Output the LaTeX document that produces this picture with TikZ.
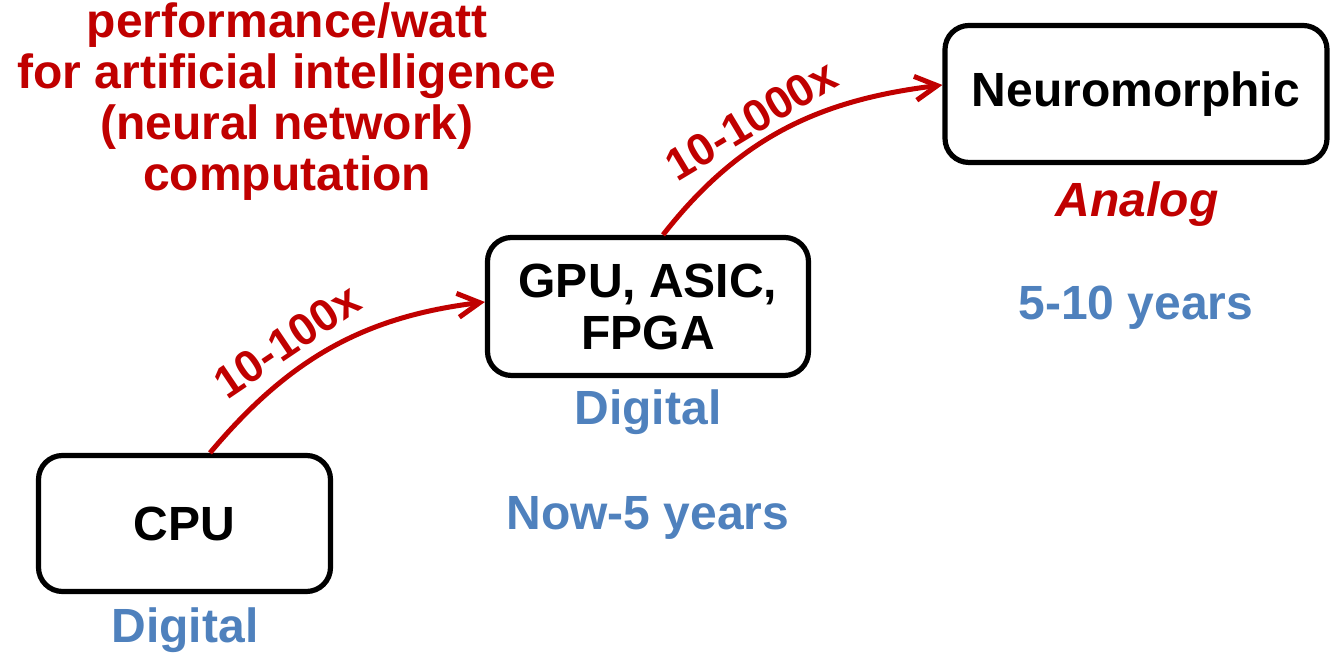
\documentclass[tikz,border=0pt]{standalone}
\usepackage{fontspec}
\setmainfont{Liberation Sans}
\usetikzlibrary{arrows.meta}
\definecolor{slidered}{RGB}{192, 0, 0}
\definecolor{slideblue}{RGB}{79, 129, 189}

\begin{document}
\begin{tikzpicture}[x=0.5pt, y=0.5pt,
    box/.style={draw, line width=2.6pt, rounded corners=12pt, align=center,
        font=\fontsize{24}{26}\selectfont\bfseries},
    tag/.style={anchor=base, text=slideblue, font=\fontsize{24}{28}\selectfont\bfseries},
    gain/.style={text=slidered, font=\fontsize{22.5}{26}\selectfont\bfseries},
    flow/.style={draw=slidered, line width=2.5pt, -{Straight Barb[length=11pt, width=12pt]}}]
    \useasboundingbox (0,0) rectangle (1333,656);

    % the three kinds of hardware
    \node[box, minimum width=146pt, minimum height=68pt] (cpu) at (184.5,132.5) {CPU};
    \node[box, minimum width=160.5pt, minimum height=69pt] (gpu) at (648,349.5) {GPU, ASIC,\\FPGA};
    \node[box, minimum width=191pt, minimum height=68.5pt] (neuro) at (1136,562) {Neuromorphic};

    % what sits under each box
    \node[tag] (cpudig) at (185,13) {Digital};
    \node[tag] (gpudig) at (648,231) {Digital};
    \node[tag] (now) at (648,126) {Now-5 years};
    \node[tag, text=slidered, font=\fontsize{24}{28}\selectfont\bfseries\itshape] (analog) at (1137,439) {Analog};
    \node[tag] (later) at (1136,336) {5-10 years};

    \node[text=slidered, font=\fontsize{24}{25.5}\selectfont\bfseries, align=center,
        anchor=north, inner sep=0pt] (title) at (287,654)
        {performance/watt\\for artificial intelligence\\(neural network)\\computation};

    % gains
    \draw[flow] ([xshift=12.75pt]cpu.north) to[out=50, in=187] ([yshift=2.25pt]gpu.west);
    \draw[flow] ([xshift=7.5pt]gpu.north) to[out=52, in=187] ([yshift=4.5pt]neuro.west);
    \node[gain, rotate=34] (g1) at (287,315) {10-100x};
    \node[gain, rotate=31] (g2) at (751,536) {10-1000x};
\end{tikzpicture}
\end{document}
